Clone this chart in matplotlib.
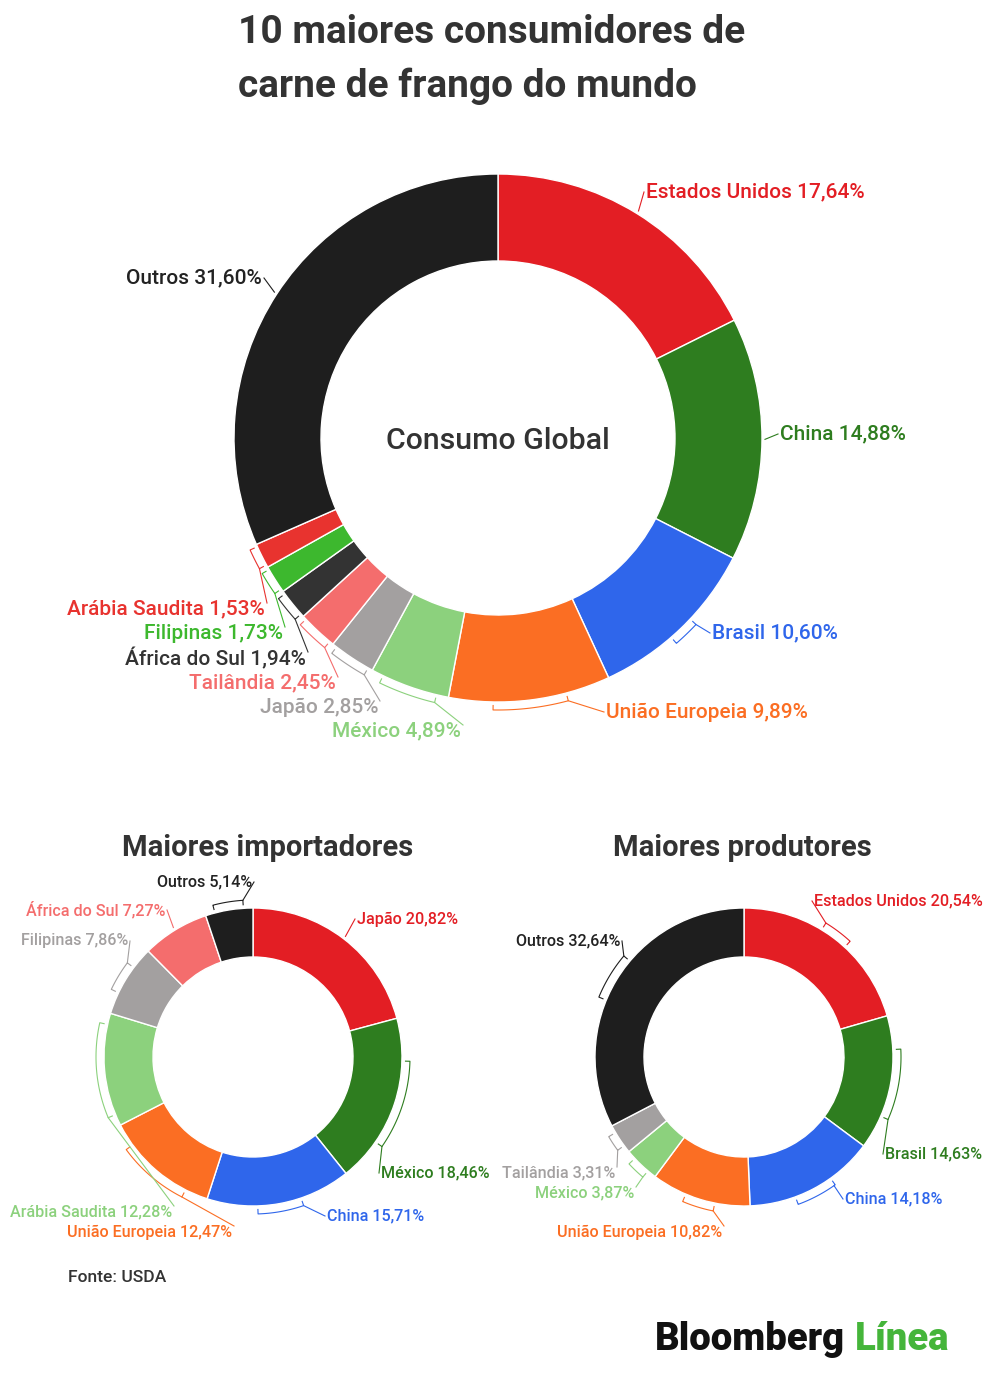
import numpy as np
import matplotlib
matplotlib.use('Agg')
import matplotlib.pyplot as plt

W, H = 1000, 1388
plt.rcParams['font.family'] = ['Roboto', 'DejaVu Sans']

# ---------------- data ----------------
cons_labels = ['Estados Unidos', 'China', 'Brasil', 'União Europeia', 'México', 'Japão',
               'Tailândia', 'África do Sul', 'Filipinas', 'Arábia Saudita', 'Outros']
cons_values = [17.64, 14.88, 10.60, 9.89, 4.89, 2.85, 2.45, 1.94, 1.73, 1.53, 31.60]

imp_labels = ['Japão', 'México', 'China', 'União Europeia', 'Arábia Saudita',
              'Filipinas', 'África do Sul', 'Outros']
imp_values = [20.82, 18.46, 15.71, 12.47, 12.28, 7.86, 7.27, 5.14]

prod_labels = ['Estados Unidos', 'Brasil', 'China', 'União Europeia', 'México',
               'Tailândia', 'Outros']
prod_values = [20.54, 14.63, 14.18, 10.82, 3.87, 3.31, 32.64]

# ---------------- styles ----------------
RED, DGREEN, BLUE, ORANGE = '#E31E24', '#2E7D1F', '#2F66EB', '#FB6E23'
LGREEN, GRAY, SALMON, DARK = '#8CD17D', '#A3A0A0', '#F46D6D', '#333333'
GREEN, RED2, BLACK = '#3DB82E', '#E8332F', '#1E1E1E'

cons_colors = [RED, DGREEN, BLUE, ORANGE, LGREEN, GRAY, SALMON, DARK, GREEN, RED2, BLACK]
imp_colors = [RED, DGREEN, BLUE, ORANGE, LGREEN, GRAY, SALMON, BLACK]
prod_colors = [RED, DGREEN, BLUE, ORANGE, LGREEN, GRAY, BLACK]

# layout (pixel coords, y downward)
cons_pos = [(646, 192, 'left'), (780, 434, 'left'), (712, 633, 'left'), (606, 712, 'left'),
            (461, 731, 'right'), (378, 707, 'right'), (336, 683, 'right'), (306, 658, 'right'),
            (283, 633, 'right'), (265, 609, 'right'), (262, 278, 'right')]
cons_spans = [0, 0, 0.15, 0.45, 0.7, 0.8, 0.8, 0.8, 0.8, 0.8, 0]

imp_pos = [(357, 919, 'left'), (381, 1173, 'left'), (327, 1216, 'left'), (232, 1232, 'right'),
           (172, 1212, 'right'), (128, 941, 'right'), (165, 910, 'right'), (252, 882, 'right')]
imp_spans = [0, 0.5, 0.3, 0.6, 0.8, 0.4, 0, 0.6]

prod_pos = [(814, 901, 'left'), (885, 1154, 'left'), (845, 1199, 'left'), (722, 1232, 'right'),
            (634, 1193, 'right'), (615, 1173, 'right'), (620, 941, 'right')]
prod_spans = [0.15, 0.5, 0.3, 0.3, 0.5, 0.5, 0.15]


def Y(y):
    return H - y


fig = plt.figure(figsize=(W / 100, H / 100), dpi=100)
ax = fig.add_axes([0, 0, 1, 1])


def fmt(name, v):
    return f"{name} {v:.2f}%".replace('.', ',')


def donut(values, labels, colors, pos, spans, cx, cy, R, rin, fs, gap):
    cyu = Y(cy)
    ax.pie(values, colors=colors, startangle=90, counterclock=False, radius=R,
           center=(cx, cyu), normalize=True,
           wedgeprops=dict(width=R - rin, edgecolor='white', linewidth=1.0))
    total = float(sum(values))
    cum = 0.0
    for v, lab, col, (lx, ly, ha), sp in zip(values, labels, colors, pos, spans):
        a0 = cum / total * 360
        a1 = (cum + v) / total * 360
        cum += v
        mid = (a0 + a1) / 2
        dy = -6 if (ly > cy + R * 0.3 and ha == 'right') else 0
        ax_x = lx + (2 if ha == 'right' else -2)
        ax_y = Y(ly + dy)
        if sp > 0:
            half = (a1 - a0) / 2 * sp
            th = np.radians(np.linspace(mid - half, mid + half, 60))
            rb = R + gap
            xs = cx + rb * np.sin(th)
            ys = cyu + rb * np.cos(th)
            t0 = th[0]
            t1 = th[-1]
            rt = rb - 5
            px = np.concatenate([[cx + rt * np.sin(t0)], xs, [cx + rt * np.sin(t1)]])
            py = np.concatenate([[cyu + rt * np.cos(t0)], ys, [cyu + rt * np.cos(t1)]])
            ax.plot(px, py, color=col, lw=0.8, solid_capstyle='butt')
            d = (xs - ax_x) ** 2 + (ys - ax_y) ** 2
            k = int(np.argmin(d))
            sx, sy = xs[k], ys[k]
        else:
            t = np.radians(mid)
            sx = cx + (R + 3) * np.sin(t)
            sy = cyu + (R + 3) * np.cos(t)
        ax.plot([sx, ax_x], [sy, ax_y], color=col, lw=0.8)
        tcol = '#222222' if col == BLACK else col
        ax.text(lx, Y(ly), fmt(lab, v), ha=ha, va='center', fontsize=fs,
                color=tcol, fontweight='medium')


donut(cons_values, cons_labels, cons_colors, cons_pos, cons_spans,
      498, 438, 264, 177, 15, 8)
donut(imp_values, imp_labels, imp_colors, imp_pos, imp_spans,
      253, 1057, 149, 100, 11.6, 8)
donut(prod_values, prod_labels, prod_colors, prod_pos, prod_spans,
      744, 1057, 149, 100, 11.6, 8)

# texts
ax.text(238, Y(43), '10 maiores consumidores de', ha='left', va='baseline',
        fontsize=28, fontweight='bold', color='#333333')
ax.text(238, Y(97), 'carne de frango do mundo', ha='left', va='baseline',
        fontsize=28, fontweight='bold', color='#333333')
ax.text(498, Y(441), 'Consumo Global', ha='center', va='center', fontsize=21.8,
        fontweight='medium', color='#333333')
ax.text(268, Y(848), 'Maiores importadores', ha='center', va='center', fontsize=21,
        fontweight='bold', color='#333333')
ax.text(742, Y(848), 'Maiores produtores', ha='center', va='center', fontsize=21,
        fontweight='bold', color='#333333')
ax.text(68, Y(1278), 'Fonte: USDA', ha='left', va='center', fontsize=12.6,
        fontweight='medium', color='#333333')
ax.text(655, Y(1350), 'Bloomberg', ha='left', va='baseline', fontsize=27.5,
        fontweight='black', color='#111111')
ax.text(855, Y(1350), 'Línea', ha='left', va='baseline', fontsize=27.5,
        fontweight='black', color='#45B53A')

ax.set_xlim(0, W)
ax.set_ylim(0, H)
ax.set_aspect('equal')
ax.axis('off')
fig.savefig('out.png', dpi=100, facecolor='white')
